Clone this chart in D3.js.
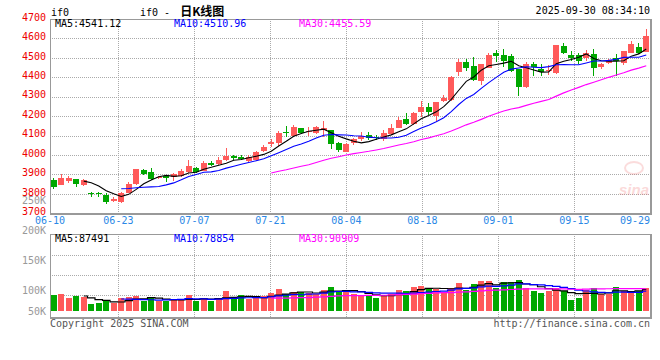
<!DOCTYPE html>
<html>
<head>
<meta charset="utf-8">
<script src="https://cdn.jsdelivr.net/npm/d3@7/dist/d3.min.js"></script>
<style>
html, body { margin: 0; padding: 0; background: #fff; }
svg { display: block; font-family: "DejaVu Sans Mono", monospace; font-size: 10px; }
</style>
</head>
<body>
<div id="chart"></div>
<script>
// trading days shown (80 sessions, 06-10 .. 09-29)
var dates = ['06-10','06-11','06-12','06-13','06-16','06-17','06-18','06-19','06-20','06-23',
  '06-24','06-25','06-26','06-27','06-30','07-01','07-02','07-03','07-04','07-07',
  '07-08','07-09','07-10','07-11','07-14','07-15','07-16','07-17','07-18','07-21',
  '07-22','07-23','07-24','07-25','07-28','07-29','07-30','07-31','08-01','08-04',
  '08-05','08-06','08-07','08-08','08-11','08-12','08-13','08-14','08-15','08-18',
  '08-19','08-20','08-21','08-22','08-25','08-26','08-27','08-28','08-29','09-01',
  '09-02','09-03','09-04','09-05','09-08','09-09','09-10','09-11','09-12','09-15',
  '09-16','09-17','09-18','09-19','09-22','09-23','09-24','09-25','09-26','09-29'];

var openPrices = [3871,3845,3867,3874,3847,3805,3805,3794,3763,3759,
  3805,3850,3922,3913,3880,3890,3885,3893,3910,3931,
  3919,3960,3953,3972,3996,3990,3970,3974,4022,4054,
  4063,4119,4097,4137,4118,4111,4128,4128,4060,4016,
  4060,4080,4102,4092,4080,4107,4140,4183,4157,4219,
  4248,4202,4279,4282,4428,4479,4457,4382,4450,4526,
  4517,4509,4440,4348,4468,4445,4432,4420,4560,4514,
  4514,4497,4519,4454,4476,4497,4471,4526,4557,4531];
var highPrices = [3880,3902,3891,3876,3876,3811,3810,3802,3782,3811,
  3862,3928,3928,3931,3892,3892,3908,3928,3974,3940,
  3970,3970,3991,4036,4002,3998,3998,4020,4050,4080,
  4122,4149,4152,4140,4145,4148,4176,4130,4068,4063,
  4087,4117,4118,4102,4128,4157,4195,4217,4219,4279,
  4265,4274,4310,4405,4492,4492,4502,4470,4524,4540,
  4543,4522,4445,4478,4479,4470,4465,4567,4575,4534,
  4524,4540,4548,4474,4493,4519,4536,4589,4578,4646];
var lowPrices = [3824,3843,3857,3836,3840,3785,3785,3747,3760,3754,
  3802,3845,3897,3871,3875,3860,3865,3888,3905,3905,
  3915,3944,3950,3968,3975,3972,3965,3968,4013,4040,
  4045,4094,4094,4106,4097,4106,4094,4030,4017,4014,
  4050,4070,4075,4075,4073,4102,4137,4152,4152,4196,
  4206,4176,4272,4280,4406,4432,4382,4360,4448,4479,
  4454,4425,4303,4343,4406,4405,4412,4418,4521,4483,
  4468,4484,4407,4445,4469,4407,4461,4523,4521,4529];
var closePrices = [3836,3883,3883,3852,3871,3797,3798,3759,3773,3805,
  3850,3926,3902,3874,3888,3883,3900,3919,3944,3910,
  3960,3948,3974,3996,3985,3980,3991,4016,4042,4068,
  4114,4111,4145,4114,4125,4142,4137,4054,4025,4056,
  4080,4097,4085,4087,4111,4137,4180,4157,4214,4245,
  4219,4274,4291,4402,4479,4449,4385,4468,4514,4512,
  4485,4433,4351,4466,4454,4428,4437,4565,4526,4500,
  4485,4526,4448,4468,4488,4485,4534,4569,4526,4613];
var volumes = [65000,69000,54000,61000,55000,28000,32000,39000,32000,51000,
  58000,61000,42000,57000,42000,40000,45000,43000,65000,40000,
  54000,40000,53000,81000,47000,65000,49000,51000,61000,73000,
  89000,69000,77000,77000,73000,69000,85000,97000,81000,81000,
  69000,65000,61000,53000,61000,69000,85000,81000,97000,101000,
  93000,89000,76000,92000,115000,85000,109000,122000,122000,92000,
  119000,117000,126000,93000,81000,74000,81000,92000,81000,45000,
  54000,84000,93000,68000,68000,97000,81000,81000,81000,93000];

var priceTicks = [3700,3800,3900,4000,4100,4200,4300,4400,4500,4600,4700];
var volumeTicks = [50000,100000,150000,200000,250000];
var volumeTickText = ['50K','100K','150K','200K','250K'];
var dateTickIndex = [0,9,19,29,39,49,59,69,79];

var maPeriods = [5, 10, 30];
var maColors = ['#000000', '#0000ff', '#ff00ff'];
var priceMaText = ['4541.12', '4510.96', '4455.59'];
var volumeMaText = ['87491', '78854', '90909'];

var UP_COLOR = '#ff5a5a';
var DOWN_COLOR = '#00a800';
var GRID_COLOR = '#aaaaaa';
var BORDER_COLOR = '#999999';

var width = 660, height = 360;
var left = 50, right = 650;
var priceTop = 19, priceBottom = 213.2;
var volTop = 234, volBase = 311, volBottom = 317;

var svg = d3.select('#chart').append('svg')
  .attr('width', width)
  .attr('height', height);

var idx = d3.range(dates.length);

var x = d3.scaleBand().domain(idx).range([left, right]).paddingInner(0.2).paddingOuter(0.1);
var gridX = d3.scaleLinear().domain([0, 79]).range([left, 650.4]);
var yPrice = d3.scaleLinear().domain([3700, 4700]).range([priceBottom, priceTop]);
var yVol = d3.scaleLinear().domain([0, 312000]).range([volBase, volTop]);
var yVolLabel = d3.scaleLinear().domain([100000, 250000]).range([290, 200]);

function cx(i) { return Math.floor(x(i) + x.bandwidth() / 2) + 0.5; }
function crisp(v) { return Math.round(v) + 0.5; }
function isUp(i) { return closePrices[i] >= openPrices[i]; }

function movingAverage(values, n) {
  return values.map(function(v, i) {
    if (i < n - 1) return null;
    return d3.mean(values.slice(i - n + 1, i + 1));
  });
}

// ---- grid
var grid = svg.append('g')
  .attr('stroke', GRID_COLOR)
  .attr('stroke-dasharray', '1,1')
  .attr('shape-rendering', 'crispEdges');

grid.selectAll('line.h')
  .data(priceTicks.slice(1, -1))
  .enter().append('line')
  .attr('x1', left).attr('x2', right)
  .attr('y1', function(d) { return crisp(yPrice(d)); })
  .attr('y2', function(d) { return crisp(yPrice(d)); });

grid.selectAll('line.v')
  .data(dateTickIndex.slice(1, -1))
  .enter().append('line')
  .attr('x1', function(d) { return crisp(gridX(d)); })
  .attr('x2', function(d) { return crisp(gridX(d)); })
  .attr('y1', priceTop).attr('y2', priceBottom);

grid.selectAll('line.vv')
  .data(dateTickIndex.slice(1, -1))
  .enter().append('line')
  .attr('x1', function(d) { return crisp(gridX(d)); })
  .attr('x2', function(d) { return crisp(gridX(d)); })
  .attr('y1', volTop).attr('y2', volBottom + 3);

grid.selectAll('line.vh')
  .data([1, 2, 3])
  .enter().append('line')
  .attr('x1', left).attr('x2', right)
  .attr('y1', function(d) { return crisp(235 + d * 20 - 0.5); })
  .attr('y2', function(d) { return crisp(235 + d * 20 - 0.5); });

// ---- watermark
var mark = svg.append('g').attr('opacity', 0.22);
mark.append('ellipse')
  .attr('cx', 634).attr('cy', 168).attr('rx', 9).attr('ry', 6)
  .attr('fill', 'none').attr('stroke', '#e66').attr('stroke-width', 2);
mark.append('text')
  .attr('x', 634).attr('y', 195)
  .attr('text-anchor', 'middle')
  .attr('font-family', 'Liberation Sans, sans-serif')
  .attr('font-weight', 'bold').attr('font-style', 'italic')
  .attr('font-size', '15px')
  .attr('fill', '#e55')
  .text('sina');

// ---- candles
var candles = svg.append('g').attr('shape-rendering', 'crispEdges');

candles.selectAll('line')
  .data(idx)
  .enter().append('line')
  .attr('x1', cx).attr('x2', cx)
  .attr('y1', function(i) { return yPrice(highPrices[i]); })
  .attr('y2', function(i) { return yPrice(lowPrices[i]); })
  .attr('stroke', function(i) { return isUp(i) ? UP_COLOR : DOWN_COLOR; });

candles.selectAll('rect')
  .data(idx)
  .enter().append('rect')
  .attr('x', function(i) { return x(i); })
  .attr('width', x.bandwidth())
  .attr('y', function(i) { return yPrice(Math.max(openPrices[i], closePrices[i])); })
  .attr('height', function(i) { return Math.max(1, Math.abs(yPrice(openPrices[i]) - yPrice(closePrices[i]))); })
  .attr('fill', function(i) { return isUp(i) ? UP_COLOR : DOWN_COLOR; });

// ---- price moving averages
maPeriods.forEach(function(n, k) {
  var ma = movingAverage(closePrices, n);
  var line = d3.line()
    .defined(function(d) { return d != null; })
    .x(function(d, i) { return x(i) + x.bandwidth() / 2; })
    .y(function(d) { return yPrice(d); });
  svg.append('path')
    .attr('d', line(ma))
    .attr('fill', 'none')
    .attr('stroke', maColors[k])
    .attr('stroke-width', 1.1);
});

// ---- volume bars
svg.append('g').attr('shape-rendering', 'crispEdges')
  .selectAll('rect')
  .data(idx)
  .enter().append('rect')
  .attr('x', function(i) { return x(i); })
  .attr('width', x.bandwidth())
  .attr('y', function(i) { return yVol(volumes[i]); })
  .attr('height', function(i) { return volBase - yVol(volumes[i]); })
  .attr('fill', function(i) { return isUp(i) ? UP_COLOR : DOWN_COLOR; });

maPeriods.forEach(function(n, k) {
  var ma = movingAverage(volumes, n);
  var line = d3.line()
    .defined(function(d) { return d != null; })
    .curve(d3.curveStep)
    .x(function(d, i) { return x(i) + x.bandwidth() / 2; })
    .y(function(d) { return yVol(d); });
  svg.append('path')
    .attr('d', line(ma))
    .attr('fill', 'none')
    .attr('stroke', maColors[k])
    .attr('stroke-width', 1.2);
});

// ---- borders
var border = svg.append('g')
  .attr('fill', 'none')
  .attr('stroke', BORDER_COLOR)
  .attr('shape-rendering', 'crispEdges');

[[priceTop, priceBottom], [volTop, volBottom]].forEach(function(p) {
  border.append('rect')
    .attr('x', left + 0.5).attr('y', p[0] + 0.5)
    .attr('width', right - left).attr('height', p[1] - p[0]);
  border.append('line')
    .attr('x1', left).attr('x2', right + 1)
    .attr('y1', p[1] + 1.5).attr('y2', p[1] + 1.5);
  border.append('line')
    .attr('x1', right + 1.5).attr('x2', right + 1.5)
    .attr('y1', p[0]).attr('y2', p[1] + 2);
});

// ---- axis labels
svg.append('g')
  .selectAll('text')
  .data(priceTicks)
  .enter().append('text')
  .attr('x', 46)
  .attr('y', function(d) { return yPrice(d) + 1.8; })
  .attr('text-anchor', 'end')
  .attr('fill', '#ee0000')
  .text(function(d) { return d; });

svg.append('g')
  .selectAll('text')
  .data(volumeTicks)
  .enter().append('text')
  .attr('x', 46)
  .attr('y', function(d) { return Math.min(yVolLabel(d), 311) + 3.8; })
  .attr('text-anchor', 'end')
  .attr('fill', '#999999')
  .text(function(d, i) { return volumeTickText[i]; });

svg.append('g')
  .selectAll('text')
  .data(dateTickIndex)
  .enter().append('text')
  .attr('x', function(d) { return d === 79 ? right : gridX(d); })
  .attr('y', 224)
  .attr('text-anchor', function(d) { return d === 79 ? 'end' : 'middle'; })
  .attr('fill', '#2a88e6')
  .text(function(d) { return dates[d]; });

// ---- MA legends
var legendX = [55, 174, 299];
maPeriods.forEach(function(n, k) {
  svg.append('text')
    .attr('x', legendX[k]).attr('y', 26.5)
    .attr('fill', maColors[k])
    .text('MA' + n + ':' + priceMaText[k]);
  svg.append('text')
    .attr('x', legendX[k]).attr('y', 242)
    .attr('fill', maColors[k])
    .text('MA' + n + ':' + volumeMaText[k]);
});

// ---- titles and footer
svg.append('text').attr('x', 51).attr('y', 15.5).attr('fill', '#000').text('if0');
var title = svg.append('text').attr('x', 140).attr('y', 15.5).attr('fill', '#000');
title.append('tspan').text('if0 - ');
title.append('tspan')
  .attr('dx', 4)
  .attr('font-family', '"Noto Sans CJK SC", sans-serif')
  .attr('font-size', '12px')
  .attr('font-weight', 'bold')
  .text('日K线图');

svg.append('text')
  .attr('x', right).attr('y', 14)
  .attr('text-anchor', 'end')
  .attr('fill', '#000')
  .text('2025-09-30 08:34:10');

svg.append('text')
  .attr('x', 50).attr('y', 327)
  .attr('fill', '#555555')
  .text('Copyright 2025 SINA.COM');

svg.append('text')
  .attr('x', right).attr('y', 326.5)
  .attr('text-anchor', 'end')
  .attr('fill', '#555555')
  .text('http://finance.sina.com.cn');
</script>
</body>
</html>
